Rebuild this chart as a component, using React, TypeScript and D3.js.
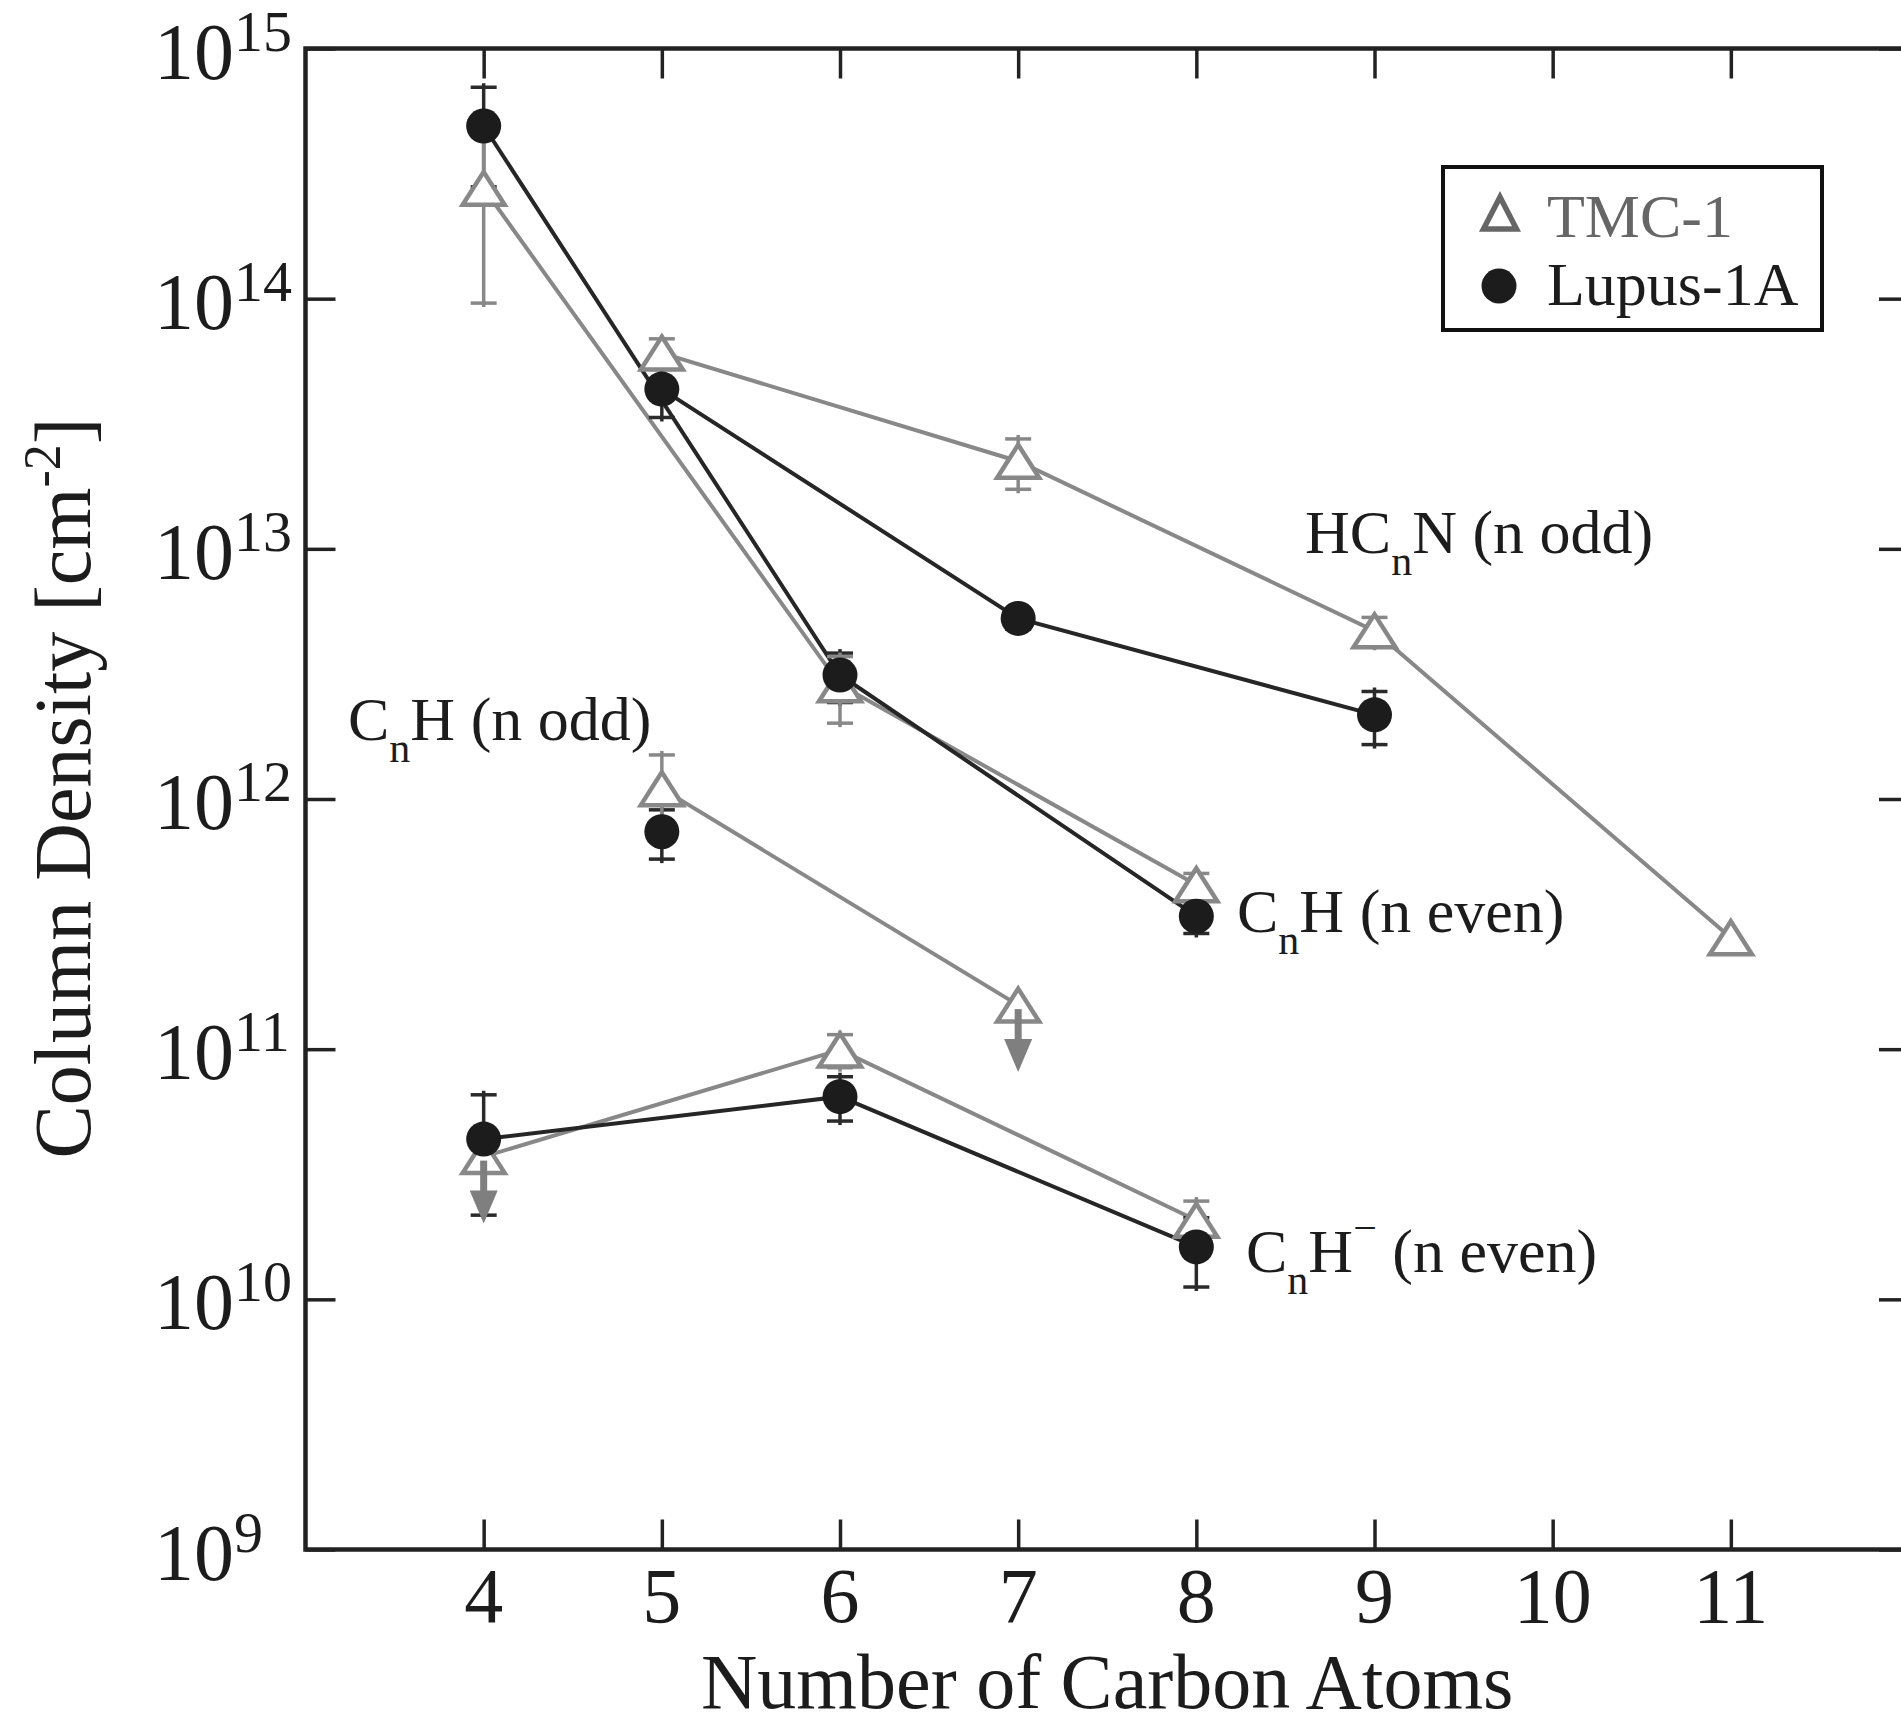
import React, { useRef, useEffect } from 'react';
import * as d3 from 'd3';

// axis ticks
const xTicks = [4, 5, 6, 7, 8, 9, 10, 11];
const yExponents = [9, 10, 11, 12, 13, 14, 15];

// HCnN (n odd)
const hcnnTmcX = [5, 7, 9, 11];
const hcnnTmc = [6.06e13, 2.24e13, 4.7e12, 2.79e11];
const hcnnTmcErr = [0.85e13, 0.51e13, 0.62e12, 0];
const hcnnLupusX = [5, 7, 9];
const hcnnLupus = [4.35e13, 5.27e12, 2.17e12];
const hcnnLupusErr = [1.0e13, 0.5e12, 0.52e12];

// CnH (n even)
const cnhEvenX = [4, 6, 8];
const cnhEvenTmc = [2.76e14, 2.86e12, 4.54e11];
const cnhEvenTmcErr = [1.8e14, 0.85e12, 0.5e11];
const cnhEvenLupus = [4.9e14, 3.13e12, 3.4e11];
const cnhEvenLupusErr = [2.1e14, 0.7e12, 0.5e11];

// CnH (n odd) -- null error = upper limit
const cnhOddTmcX = [5, 7];
const cnhOddTmc = [1.1e12, 1.5e11];
const cnhOddTmcErr = [0.4e12, null];
const cnhOddLupusX = [5];
const cnhOddLupus = [7.4e11];
const cnhOddLupusErr = [1.65e11];

// CnH- (n even)
const anionX = [4, 6, 8];
const anionTmc = [3.72e10, 9.93e10, 2.07e10];
const anionTmcErr = [null, 1.5e10, 0.4e10];
const anionLupus = [4.37e10, 6.46e10, 1.62e10];
const anionLupusErr = [2.2e10, 1.3e10, 0.5e10];

type Pt = { n: number; v: number; err: number | null };
const zip = (xs: number[], vs: number[], es: (number | null)[]): Pt[] =>
    xs.map((n, i) => ({ n, v: vs[i], err: es[i] }));

const tmcSeries = [
    zip(hcnnTmcX, hcnnTmc, hcnnTmcErr),
    zip(cnhEvenX, cnhEvenTmc, cnhEvenTmcErr),
    zip(cnhOddTmcX, cnhOddTmc, cnhOddTmcErr),
    zip(anionX, anionTmc, anionTmcErr),
];
const lupusSeries = [
    zip(hcnnLupusX, hcnnLupus, hcnnLupusErr),
    zip(cnhEvenX, cnhEvenLupus, cnhEvenLupusErr),
    zip(cnhOddLupusX, cnhOddLupus, cnhOddLupusErr),
    zip(anionX, anionLupus, anionLupusErr),
];

const FONT = '"Liberation Serif", "Times New Roman", serif';
const GRAY = '#888888';
const DARK = '#1c1c1c';

const App = () => {
    const svgRef = useRef(null);

    useEffect(() => {
        const svg = d3.select(svgRef.current);
        svg.selectAll('*').remove();

        const left = 305.5, right = 1909, top = 48.5, bottom = 1549.5;
        const tick = 30;

        const x = d3.scaleLinear().domain([3, 12]).range([left, right]);
        const y = d3.scaleLog().domain([1e9, 1e15]).range([bottom, top]);

        const g = svg.append('g').attr('font-family', FONT);

        // frame
        g.append('rect')
            .attr('x', left).attr('y', top)
            .attr('width', right - left).attr('height', bottom - top)
            .attr('fill', 'none').attr('stroke', '#222').attr('stroke-width', 4.5);

        // ticks on all four sides (inward)
        const styleAxis = sel => {
            sel.select('.domain').remove();
            sel.selectAll('line').attr('stroke', '#222').attr('stroke-width', 3.5);
        };
        g.append('g').attr('transform', `translate(0,${bottom})`)
            .call(d3.axisBottom(x).tickValues(xTicks).tickSizeInner(-tick).tickSizeOuter(0).tickFormat(() => ''))
            .call(styleAxis);
        g.append('g').attr('transform', `translate(0,${top})`)
            .call(d3.axisTop(x).tickValues(xTicks).tickSizeInner(-tick).tickSizeOuter(0).tickFormat(() => ''))
            .call(styleAxis);
        const yTickVals = yExponents.map(e => Math.pow(10, e));
        g.append('g').attr('transform', `translate(${left},0)`)
            .call(d3.axisLeft(y).tickValues(yTickVals).tickSizeInner(-tick).tickSizeOuter(0).tickFormat(() => ''))
            .call(styleAxis);
        g.append('g').attr('transform', `translate(${right},0)`)
            .call(d3.axisRight(y).tickValues(yTickVals).tickSizeInner(-tick).tickSizeOuter(0).tickFormat(() => ''))
            .call(styleAxis);

        // x tick labels
        g.selectAll('.xlab').data(xTicks).enter().append('text')
            .attr('x', d => x(d)).attr('y', bottom + 72)
            .attr('text-anchor', 'middle').attr('font-size', 78).attr('fill', DARK)
            .text(d => d);

        // y tick labels 10^e
        const ylab = g.selectAll('.ylab').data(yExponents).enter().append('text')
            .attr('x', 154).attr('y', d => y(Math.pow(10, d)) + 30)
            .attr('font-size', 80).attr('fill', DARK);
        ylab.append('tspan').text('10');
        ylab.append('tspan').attr('font-size', 58).attr('dy', -28).text(d => d);

        // axis titles
        g.append('text')
            .attr('x', (left + right) / 2).attr('y', 1708)
            .attr('text-anchor', 'middle').attr('font-size', 78).attr('fill', DARK)
            .text('Number of Carbon Atoms');
        const yt = g.append('text')
            .attr('transform', `translate(90,788) rotate(-90)`)
            .attr('text-anchor', 'middle').attr('font-size', 80).attr('fill', DARK);
        yt.append('tspan').text('Column Density [cm');
        yt.append('tspan').attr('font-size', 52).attr('dy', -30).text('-2');
        yt.append('tspan').attr('dy', 30).text(']');

        // connecting lines
        const line = d3.line<Pt>().x(d => x(d.n)).y(d => y(d.v));
        tmcSeries.filter(s => s.length > 1).forEach(s => {
            g.append('path').datum(s).attr('d', line)
                .attr('fill', 'none').attr('stroke', GRAY).attr('stroke-width', 4);
        });
        lupusSeries.filter(s => s.length > 1).forEach(s => {
            g.append('path').datum(s).attr('d', line)
                .attr('fill', 'none').attr('stroke', '#262626').attr('stroke-width', 4);
        });

        // error bars
        const errBars = (pts: Pt[], color: string) => {
            pts.filter(p => p.err).forEach(p => {
                const cx = x(p.n);
                const y1 = y(p.v + (p.err as number));
                const y2 = y(p.v - (p.err as number));
                const eg = g.append('g').attr('stroke', color).attr('stroke-width', 3.5);
                eg.append('line').attr('x1', cx).attr('x2', cx).attr('y1', y1 - 4).attr('y2', y2 + 4);
                eg.append('line').attr('x1', cx - 13).attr('x2', cx + 13).attr('y1', y1).attr('y2', y1);
                eg.append('line').attr('x1', cx - 13).attr('x2', cx + 13).attr('y1', y2).attr('y2', y2);
            });
        };
        lupusSeries.forEach(s => errBars(s, '#2a2a2a'));
        tmcSeries.forEach(s => errBars(s, GRAY));

        // triangles
        const tri = (w: number, h: number) => `M0,${-h / 2}L${w / 2},${h / 2}L${-w / 2},${h / 2}Z`;
        tmcSeries.forEach(s => {
            g.selectAll(null).data(s).enter().append('path')
                .attr('d', tri(42, 33))
                .attr('transform', d => `translate(${x(d.n)},${y(d.v)})`)
                .attr('fill', '#fff').attr('stroke', GRAY).attr('stroke-width', 4.5)
                .attr('stroke-linejoin', 'miter');
        });

        // upper-limit arrows
        tmcSeries.forEach(s => {
            s.filter(p => p.err === null).forEach(p => {
                const cx = x(p.n), cy = y(p.v);
                g.append('rect').attr('x', cx - 3.5).attr('y', cy + 4).attr('width', 7).attr('height', 32)
                    .attr('fill', '#7f7f7f');
                g.append('path')
                    .attr('d', `M${cx - 14},${cy + 34}L${cx + 14},${cy + 34}L${cx},${cy + 67}Z`)
                    .attr('fill', '#7f7f7f');
            });
        });

        // circles
        lupusSeries.forEach(s => {
            g.selectAll(null).data(s).enter().append('circle')
                .attr('cx', d => x(d.n)).attr('cy', d => y(d.v)).attr('r', 17.5)
                .attr('fill', DARK);
        });

        // annotations
        const label = (px: number, py: number, parts: [string, string][]) => {
            const t = g.append('text').attr('x', px).attr('y', py).attr('font-size', 62).attr('fill', DARK);
            let shift = 0;
            parts.forEach(([kind, s]) => {
                const target = kind === 'sub' ? 22 : kind === 'sup' ? -30 : 0;
                const ts = t.append('tspan').attr('dy', target - shift).text(s);
                if (kind !== 'n') ts.attr('font-size', 42);
                shift = target;
            });
        };
        label(1305, 553, [['n', 'HC'], ['sub', 'n'], ['n', 'N (n odd)']]);
        label(348, 740, [['n', 'C'], ['sub', 'n'], ['n', 'H (n odd)']]);
        label(1237, 932, [['n', 'C'], ['sub', 'n'], ['n', 'H (n even)']]);
        label(1246, 1272, [['n', 'C'], ['sub', 'n'], ['n', 'H'], ['sup', '\u2212'], ['n', '\u00a0(n even)']]);

        // legend
        const lg = g.append('g');
        lg.append('rect').attr('x', 1443).attr('y', 167).attr('width', 379).attr('height', 163)
            .attr('fill', '#fff').attr('stroke', '#111').attr('stroke-width', 4);
        lg.append('path').attr('d', tri(33, 32)).attr('transform', 'translate(1500,213)')
            .attr('fill', 'none').attr('stroke', '#666').attr('stroke-width', 5.5);
        lg.append('text').attr('x', 1547).attr('y', 237).attr('font-size', 62).attr('fill', '#666')
            .text('TMC-1');
        lg.append('circle').attr('cx', 1499).attr('cy', 286).attr('r', 17.5).attr('fill', DARK);
        lg.append('text').attr('x', 1547).attr('y', 305).attr('font-size', 62).attr('fill', DARK)
            .text('Lupus-1A');
    }, []);

    return (
        <svg ref={svgRef} width={1901} height={1725}
            style={{ position: 'absolute', left: 0, top: 0, background: '#fff' }} />
    );
};

export default App;
